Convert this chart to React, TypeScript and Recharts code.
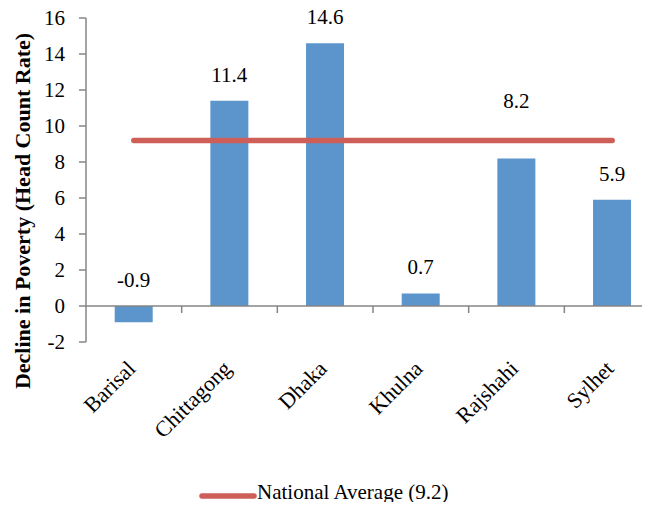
import {
  ComposedChart,
  Bar,
  Line,
  XAxis,
  YAxis,
  Legend,
  LabelList,
  ReferenceLine,
} from 'recharts';

const regions = ['Barisal', 'Chittagong', 'Dhaka', 'Khulna', 'Rajshahi', 'Sylhet'];
const povertyDecline = [-0.9, 11.4, 14.6, 0.7, 8.2, 5.9];
const NATIONAL_AVERAGE = 9.2;
const yTicks = [-2, 0, 2, 4, 6, 8, 10, 12, 14, 16];

const FONT = "'Liberation Serif', 'Times New Roman', 'DejaVu Serif', serif";
const BAR_BLUE = '#5b95cb';
const AVG_RED = '#cd5f58';
const AXIS_GREY = '#868686';

// Rajshahi's label sits higher so it clears the national average line
const labelLift: Record<string, number> = { Rajshahi: 31 };

const data = regions.map((region, i) => ({
  region,
  decline: povertyDecline[i],
  avg: NATIONAL_AVERAGE,
}));

function ValueLabel(props: any) {
  const { x, y, width, height, value, index } = props;
  const top = Math.min(y, y + height);
  const lift = labelLift[regions[index]] ?? 0;
  return (
    <text
      x={x + width / 2}
      y={top - 19 - lift}
      textAnchor="middle"
      fill="#000"
      fontSize={21}
      style={{ fontFamily: FONT }}
    >
      {value}
    </text>
  );
}

function RegionTick({ x, y, payload }: any) {
  return (
    <text
      x={x + 3}
      y={y + 20}
      transform={`rotate(-45, ${x + 3}, ${y + 20})`}
      textAnchor="end"
      fill="#000"
      fontSize={22}
      style={{ fontFamily: FONT }}
    >
      {payload.value}
    </text>
  );
}

// zero line doubles as the category axis, with ticks between the regions
function ZeroAxis({ x1, y1, x2 }: any) {
  const step = (x2 - x1) / regions.length;
  return (
    <g>
      <line x1={x1} y1={y1} x2={x2} y2={y1} stroke={AXIS_GREY} strokeWidth={1.5} />
      {regions.slice(1).map((r, i) => (
        <line
          key={r}
          x1={x1 + step * (i + 1)}
          x2={x1 + step * (i + 1)}
          y1={y1}
          y2={y1 + 7}
          stroke={AXIS_GREY}
          strokeWidth={1.5}
        />
      ))}
    </g>
  );
}

function AxisTitle() {
  return (
    <text
      x={30}
      y={211}
      transform="rotate(-90, 30, 211)"
      textAnchor="middle"
      fontSize={22}
      fontWeight="bold"
      fill="#000"
      style={{ fontFamily: FONT }}
    >
      Decline in Poverty (Head Count Rate)
    </text>
  );
}

function AverageLegend() {
  return (
    <div
      style={{
        display: 'flex',
        alignItems: 'center',
        height: 24,
        fontFamily: FONT,
        fontSize: 21,
      }}
    >
      <svg width={58} height={10} style={{ position: 'relative', top: 1 }}>
        <line x1={3} y1={5} x2={55} y2={5} stroke={AVG_RED} strokeWidth={5.5} strokeLinecap="round" />
      </svg>
      <span style={{ color: '#000', lineHeight: '24px', position: 'relative', top: -3 }}>
        National Average ({NATIONAL_AVERAGE})
      </span>
    </div>
  );
}

export default function App() {
  return (
    <div style={{ margin: -8, width: 650, height: 510, overflow: 'hidden', background: '#fff', fontFamily: FONT }}>
      <ComposedChart
        width={670}
        height={510}
        data={data}
        margin={{ top: 18, right: 10, bottom: 3, left: 0 }}
        barCategoryGap="30%"
        style={{ fontFamily: FONT }}
      >
        <XAxis
          dataKey="region"
          axisLine={false}
          tickLine={false}
          height={141}
          interval={0}
          tick={<RegionTick />}
        />
        <YAxis
          domain={[-2, 16]}
          ticks={yTicks}
          width={86}
          stroke={AXIS_GREY}
          strokeWidth={1.5}
          tickSize={7}
          tickMargin={14}
          tick={{ fill: '#000', fontSize: 21, style: { fontFamily: FONT } }}
          label={{ content: <AxisTitle /> }}
        />
        <ReferenceLine y={0} shape={<ZeroAxis />} />
        <Bar dataKey="decline" fill={BAR_BLUE} isAnimationActive={false}>
          <LabelList dataKey="decline" content={<ValueLabel />} />
        </Bar>
        <Line
          dataKey="avg"
          stroke={AVG_RED}
          strokeWidth={5.5}
          strokeLinecap="round"
          dot={false}
          activeDot={false}
          isAnimationActive={false}
        />
        <Legend
          verticalAlign="bottom"
          content={<AverageLegend />}
          wrapperStyle={{ left: 199, width: 300 }}
        />
      </ComposedChart>
    </div>
  );
}
